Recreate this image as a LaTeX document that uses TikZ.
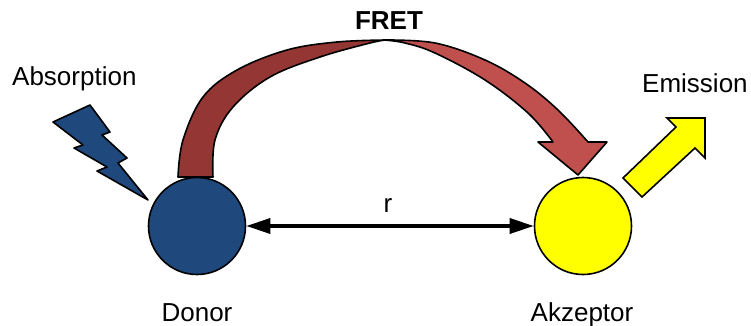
\documentclass[tikz,border=0pt]{standalone}
\usepackage{fontspec}
\setmainfont{Liberation Sans}
\usetikzlibrary{arrows.meta}
\definecolor{fretdark}{HTML}{943634}
\definecolor{fretlight}{HTML}{C0504D}
\definecolor{donorblue}{HTML}{1F497D}
\definecolor{akzyellow}{HTML}{FFFF00}
\tikzset{
  outl/.style={draw=black, line width=1.6pt, line join=round},
  mol/.style={circle, outl, minimum size=97pt, inner sep=0pt},
  lbl/.style={font=\fontsize{26}{30}\selectfont, inner sep=0pt, anchor=base},
}
\begin{document}
\begin{tikzpicture}[x=1pt,y=-1pt]
\useasboundingbox (0,0) rectangle (751,326);
% FRET curved arrow: back (dark) part
\path[outl, fill=fretdark]
  plot[smooth, tension=0.6] coordinates {(178,177) (183,140) (203,97) (237,70) (287,50) (337,42) (386,40)}
  -- plot[smooth, tension=0.6] coordinates {(386,40) (370,43) (320,57) (270,77) (233,107) (215,140) (213,177)}
  -- cycle;
% FRET curved arrow: front (light) part with head
\path[outl, fill=fretlight]
  plot[smooth, tension=0.6] coordinates {(384,40) (435,43) (485,60) (525,83) (558,110) (588,142)}
  -- (607,142) -- (578,175) -- (538,142) -- (553,142)
  -- plot[smooth, tension=0.6] coordinates {(553,142) (528,113) (485,80) (435,53) (405,43) (384,40)}
  -- cycle;
% absorption bolt
\path[outl, fill=donorblue] (53,122) -- (90,105) -- (110,132) -- (102,135) -- (127,158)
  -- (118,163) -- (148,200) -- (97,171) -- (107,167) -- (74,148) -- (83,145) -- cycle;
% emission arrow
\path[outl, fill=akzyellow, line join=miter] (623,178) -- (676,127) -- (667,118) -- (705,118)
  -- (705,158) -- (695,148) -- (642,197) -- cycle;
% molecules
\node[mol, fill=donorblue] (donor) at (197,226) {};
\node[mol, fill=akzyellow] (akz) at (583,226) {};
\draw[line width=3.5pt, {Triangle[length=24pt,width=15pt]}-{Triangle[length=24pt,width=15pt]}]
  (donor) -- (akz);
% labels
\node[lbl, anchor=base west] (abs) at (12,85) {Absorption};
\node[lbl, font=\fontsize{26}{30}\selectfont\bfseries] (fret) at (389,30) {FRET};
\node[lbl, anchor=base west] (emi) at (642,93) {Emission};
\node[lbl] (r) at (388,212) {r};
\node[lbl] (dl) at (197,321) {Donor};
\node[lbl] (al) at (582,321) {Akzeptor};
\end{tikzpicture}
\end{document}
